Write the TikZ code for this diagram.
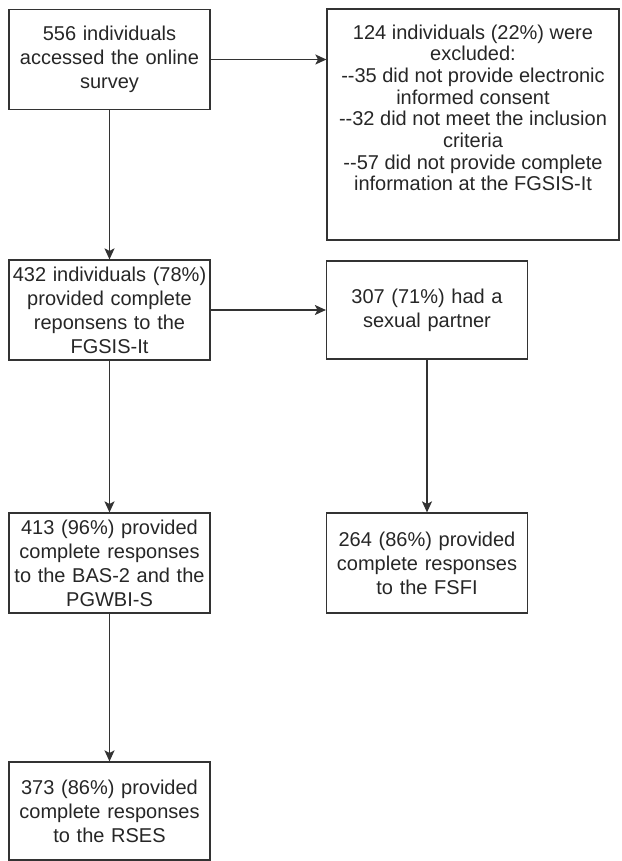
\documentclass[tikz,border=0pt]{standalone}
\usepackage{fontspec}
\setmainfont{Liberation Sans}
\usetikzlibrary{arrows.meta}
\begin{document}
\begin{tikzpicture}[x=1pt,y=-1pt,
    box/.style={draw=black!80, line width=1.2pt, align=center, text width=199pt,
      inner sep=1pt, minimum height=100pt, text=black!85,
      font=\fontsize{20}{24}\selectfont},
    flow/.style={draw=black!80, line width=1.2pt,
      -{Stealth[length=11pt,width=10pt,inset=2.5pt]}}]
  \useasboundingbox (0,0) rectangle (621,861);

  % left column
  \node[box] (access) at (109.5,59.5) {556 individuals\\ accessed the online\\ survey};
  \node[box] (complete) at (109.5,310) {432 individuals (78\%)\\ provided complete\\ reponsens to the\\ FGSIS-It};
  \node[box] (bas) at (109.5,563) {413 (96\%) provided\\ complete responses\\ to the BAS-2 and the\\ PGWBI-S};
  \node[box, minimum height=98pt] (rses) at (109.5,811) {373 (86\%) provided\\ complete responses\\ to the RSES};

  % right column
  \node[box, text width=290pt, minimum height=231pt] (excluded) at (473,124.5) {};
  \node[anchor=north, align=center, inner sep=0pt, text=black!85,
    font=\fontsize{20}{21.7}\selectfont] (excltext) at ([yshift=-16pt]excluded.north)
    {124 individuals (22\%) were\\ excluded:\\ -{}-35 did not provide electronic\\ informed consent\\
     -{}-32 did not meet the inclusion\\ criteria\\ -{}-57 did not provide complete\\ information at the FGSIS-It};
  \node[box, minimum height=98pt] (partner) at (427,310) {307 (71\%) had a\\ sexual partner};
  \node[box] (fsfi) at (427,563) {264 (86\%) provided\\ complete responses\\ to the FSFI};

  \draw[flow] (access.east) -- (access.east -| excluded.west);
  \draw[flow] (access) -- (complete);
  \draw[flow] (complete) -- (partner);
  \draw[flow] (complete) -- (bas);
  \draw[flow] (partner) -- (fsfi);
  \draw[flow] (bas) -- (rses);
\end{tikzpicture}
\end{document}
